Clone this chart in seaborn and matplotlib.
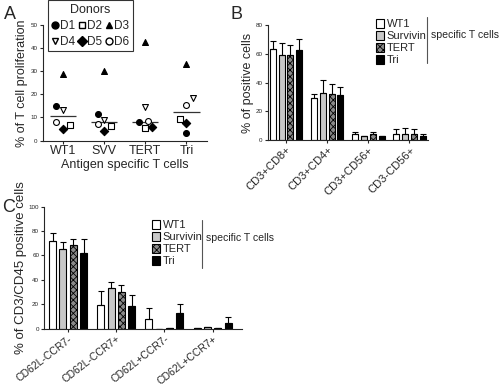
import numpy as np
import pandas as pd
import matplotlib
matplotlib.use("Agg")
import matplotlib.pyplot as plt
import matplotlib.transforms as mtransforms
from matplotlib.lines import Line2D
from matplotlib.patches import Patch
import seaborn as sns

# ---------------------------------
# Data
# ---------------------------------

# Panel A: % proliferation per donor for each antigen
antigens_a = ["WT1", "SVV", "TERT", "Tri"]
donors = ["D1", "D2", "D3", "D4", "D5", "D6"]
prolif = {
    "D1": [15.1, 11.4, 7.9, 3.2],
    "D2": [6.9, 6.1, 5.6, 9.2],
    "D3": [28.7, 30.1, 42.5, 33.0],
    "D4": [13.1, 8.8, 14.4, 18.2],
    "D5": [4.8, 4.3, 5.9, 7.5],
    "D6": [7.9, 7.1, 8.5, 15.3],
}

# Panel B: subsets of specific T cells
subsets_b = ["CD3+CD8+", "CD3+CD4+", "CD3+CD56+", "CD3-CD56+"]
groups = ["WT1", "Survivin", "TERT", "Tri"]
mean_b = {
    "WT1": [63.3, 29.4, 4.2, 4.2],
    "Survivin": [59.4, 32.5, 2.6, 4.2],
    "TERT": [59.4, 31.8, 4.6, 4.6],
    "Tri": [62.8, 31.3, 2.6, 2.6],
}
err_b = {
    "WT1": [5.6, 2.4, 1.6, 3.4],
    "Survivin": [7.8, 9.2, 0.3, 3.9],
    "TERT": [6.9, 6.9, 0.7, 3.3],
    "Tri": [7.2, 5.8, 0.3, 1.6],
}

# Panel C: memory phenotype
subsets_c = ["CD62L-CCR7-", "CD62L-CCR7+", "CD62L+CCR7-", "CD62L+CCR7+"]
mean_c = {
    "WT1": [71.9, 19.3, 8.4, 0.5],
    "Survivin": [65.4, 33.0, 0.1, 1.5],
    "TERT": [68.4, 30.2, 0.4, 0.8],
    "Tri": [62.4, 18.8, 13.1, 4.9],
}
err_c = {
    "WT1": [6.8, 11.5, 8.5, 0.2],
    "Survivin": [5.7, 4.9, 0.1, 0.4],
    "TERT": [5.2, 5.5, 0.1, 0.3],
    "Tri": [10.9, 9.0, 7.1, 4.6],
}

# ---------------------------------
# Style
# ---------------------------------

sns.set_style("ticks")
plt.rcParams["font.family"] = ["Liberation Sans", "DejaVu Sans"]
plt.rcParams["axes.linewidth"] = 0.8
plt.rcParams["hatch.linewidth"] = 0.6

bar_colors = ["white", "#c8c8c8", "#8a8a8a", "black"]

# donor marker: (marker, facecolor)
donor_style = {
    "D1": ("o", "black"),
    "D2": ("s", "white"),
    "D3": ("^", "black"),
    "D4": ("v", "white"),
    "D5": ("D", "black"),
    "D6": ("o", "white"),
}
# horizontal spread of points within a category
spread = {
    "D1": [-0.16, -0.16, -0.16, 0.0],
    "D2": [0.16, 0.16, 0.0, -0.16],
    "D3": [0.0, 0.0, 0.0, 0.0],
    "D4": [0.0, 0.0, 0.0, 0.16],
    "D5": [0.0, 0.0, 0.16, 0.0],
    "D6": [-0.16, -0.16, 0.07, 0.0],
}

fig = plt.figure(figsize=(5, 3.86), dpi=100)


def style_axis(ax):
    sns.despine(ax=ax)
    ax.tick_params(axis="both", length=2.5, width=0.8, pad=1)
    ax.tick_params(axis="y", labelsize=4.5)


# ---------------------------------
# Panel A
# ---------------------------------

ax_a = fig.add_axes([0.085, 0.636, 0.329, 0.299])
xpos = np.arange(len(antigens_a))
for d in donors:
    m, fc = donor_style[d]
    sns.scatterplot(x=xpos + np.array(spread[d]), y=prolif[d], marker=m,
                    color=fc, edgecolor="black", linewidth=0.8, s=18,
                    ax=ax_a, zorder=3)

medians = np.median(np.array([prolif[d] for d in donors]), axis=0)
ax_a.hlines(medians, xpos - 0.32, xpos + 0.32, color="#333333", lw=0.9)

ax_a.set_xlim(-0.5, 3.5)
ax_a.set_ylim(0, 50)
ax_a.set_yticks([0, 10, 20, 30, 40, 50])
ax_a.set_xticks(xpos)
ax_a.set_xticklabels(antigens_a, fontsize=9)
ax_a.set_xlabel("Antigen specific T cells", fontsize=9, labelpad=1)
ax_a.set_ylabel("% of T cell proliferation", fontsize=9, labelpad=2)
style_axis(ax_a)

# legend fills column by column, so order handles to read D1 D2 D3 / D4 D5 D6
leg_order = ["D1", "D4", "D2", "D5", "D3", "D6"]
handles_a = [Line2D([], [], ls="none", marker=donor_style[d][0],
                    markerfacecolor=donor_style[d][1], markeredgecolor="black",
                    markersize=5, label=d) for d in leg_order]
leg_a = fig.legend(handles=handles_a, ncol=3, title="Donors", fontsize=8.5,
                   title_fontsize=9, loc="upper left",
                   bbox_to_anchor=(0.096, 1.0), frameon=True, fancybox=False,
                   edgecolor="black", handlelength=0.6, handletextpad=0.15,
                   columnspacing=0.25, labelspacing=0.35, borderpad=0.3,
                   borderaxespad=0)
leg_a.get_frame().set_linewidth(0.8)

# ---------------------------------
# Bar panels (B and C)
# ---------------------------------


def bar_panel(ax, subsets, means, errs, ymax, yticks, rot, fs, dx, dy):
    df = pd.DataFrame([(s, g, means[g][i]) for g in groups
                       for i, s in enumerate(subsets)],
                      columns=["subset", "antigen", "value"])
    sns.barplot(data=df, x="subset", y="value", hue="antigen",
                hue_order=groups, order=subsets, palette=bar_colors,
                edgecolor="black", linewidth=0.8, width=0.86, gap=0.32,
                errorbar=None, legend=False, ax=ax, saturation=1)
    for g, cont in zip(groups, ax.containers):
        xs = [b.get_x() + b.get_width() / 2 for b in cont]
        ys = [b.get_height() for b in cont]
        e = errs[g]
        ax.errorbar(xs, ys, yerr=[np.zeros(len(e)), e], fmt="none",
                    ecolor="black", elinewidth=0.8, capsize=2, capthick=0.8,
                    zorder=1)
        if g == "TERT":
            for b in cont:
                b.set_hatch("xxxxx")
    ax.set_ylim(0, ymax)
    ax.set_yticks(yticks)
    ax.set_xlabel("")
    ax.set_xticks(range(len(subsets)))
    ax.set_xticklabels(subsets, rotation=rot, ha="right",
                       rotation_mode="anchor", fontsize=fs)
    shift = mtransforms.ScaledTranslation(dx / 100, dy / 100,
                                          fig.dpi_scale_trans)
    for lab in ax.get_xticklabels():
        lab.set_transform(lab.get_transform() + shift)
    style_axis(ax)


def group_legend(x, y, yline0, yline1, xline, ytext):
    handles = [Patch(facecolor=c, edgecolor="black", linewidth=0.8,
                     hatch="xxxxx" if g == "TERT" else None, label=g)
               for g, c in zip(groups, bar_colors)]
    fig.legend(handles=handles, loc="upper left", bbox_to_anchor=(x, y),
               frameon=False, fontsize=8, handlelength=0.7,
               handleheight=0.9, handletextpad=0.25, labelspacing=0.14,
               borderpad=0, borderaxespad=0)
    fig.add_artist(Line2D([xline, xline], [yline0, yline1],
                          color="#555555", lw=0.8))
    fig.text(xline + 0.008, ytext, "specific T cells", fontsize=7.6,
             va="center")


ax_b = fig.add_axes([0.535, 0.637, 0.321, 0.298])
bar_panel(ax_b, subsets_b, mean_b, err_b, 80, [0, 20, 40, 60, 80],
          45, 8, 3, 2)
ax_b.set_xlim(-0.45, 3.45)
ax_b.set_ylabel("% of positive cells", fontsize=9, labelpad=1)
group_legend(0.752, 1 - 19 / 386, 1 - 63 / 386, 1 - 17 / 386, 0.854,
             1 - 35 / 386)

ax_c = fig.add_axes([0.088, 0.148, 0.395, 0.317])
bar_panel(ax_c, subsets_c, mean_c, err_c, 100, [0, 20, 40, 60, 80, 100],
          38, 7.5, 14, -1)
ax_c.set_xlim(-0.5, 3.6)
ax_c.set_ylabel("% of CD3/CD45 positive cells", fontsize=9.5, labelpad=1)
group_legend(0.304, 1 - 220 / 386, 1 - 268 / 386, 1 - 220 / 386, 0.404,
             1 - 238 / 386)

# panel letters
fig.text(0.008, 0.985, "A", fontsize=13, va="top")
fig.text(0.462, 0.985, "B", fontsize=13, va="top")
fig.text(0.004, 0.485, "C", fontsize=13, va="top")

fig.savefig("out.png", dpi=100)
